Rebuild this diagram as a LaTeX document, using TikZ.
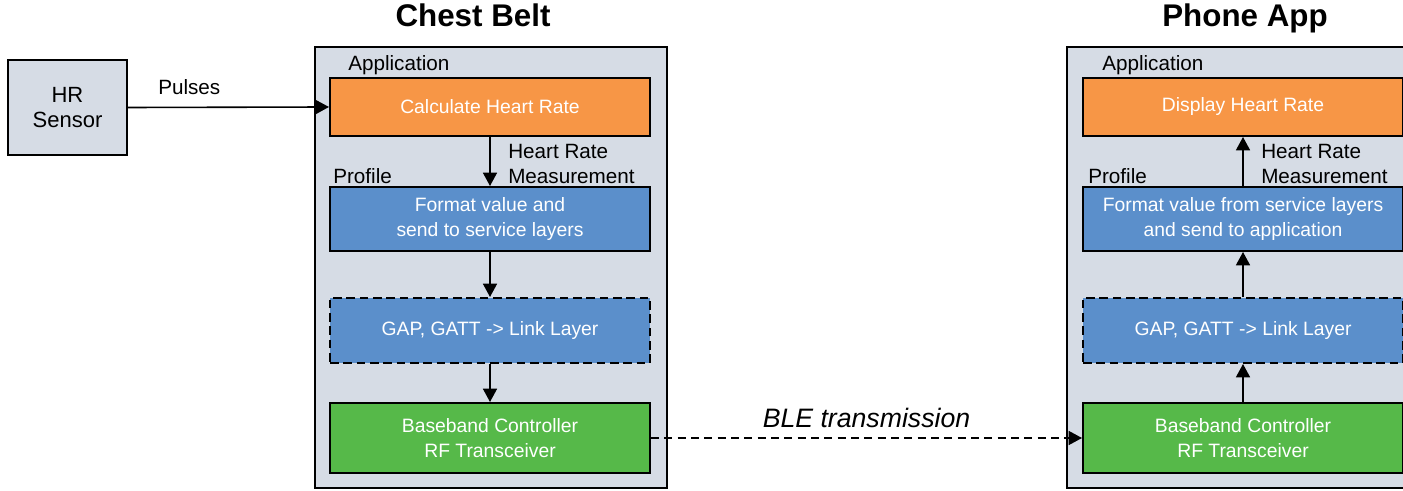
\documentclass[tikz,border=0pt]{standalone}
\usepackage{fontspec}
\setmainfont{Liberation Sans}
\usetikzlibrary{arrows.meta}
\definecolor{panelbg}{HTML}{D6DCE5}
\definecolor{apporange}{HTML}{F79646}
\definecolor{profblue}{HTML}{5B8FCB}
\definecolor{bbgreen}{HTML}{56B949}

\begin{document}
\begin{tikzpicture}[x=0.75pt,y=-0.75pt,
  panel/.style={draw,line width=1.9pt,fill=panelbg},
  layer/.style={draw,line width=1.5pt,minimum width=240pt,inner sep=0pt,text=white,align=center,
    font=\fontsize{14.5}{18.5}\selectfont},
  lbl/.style={anchor=west,inner sep=0pt,align=left,font=\fontsize{15.5}{18.75}\selectfont},
  title/.style={anchor=base,font=\bfseries\fontsize{23.5}{28}\selectfont},
  flow/.style={line width=1.2pt,-{Triangle[length=10pt,width=10.5pt]}}]
        \useasboundingbox (0,0) rectangle (1403,491);
        \clip (0,0) rectangle (1403,491);

        \node[title] (beltTitle) at (473,27) {Chest Belt};
        \node[title] (appTitle) at (1245,27) {Phone App};

        \draw[panel] (315,47) rectangle (667,488);
        \draw[panel] (1067,47) rectangle (1419,488);

        \node[panel,minimum width=89pt,minimum height=71pt,align=center,font=\fontsize{16.5}{18.75}\selectfont] (sensor) at (67.5,107.5) {HR\\Sensor};

        % chest belt stack
        \node[lbl] (beltApp) at (348,65) {Application};
        \node[layer,fill=apporange,minimum height=43.5pt] (calc) at (490,107) {Calculate Heart Rate};
        \node[lbl] (beltProf) at (333,176) {Profile};
        \node[lbl] (beltHrm) at (508,163.5) {Heart Rate\\Measurement};
        \node[layer,fill=profblue,minimum height=48pt] (fmtL) at (490,219) {Format value and\\send to service layers};
        \node[layer,fill=profblue,minimum height=48.75pt,dash pattern=on 6.5pt off 3.5pt] (gapL) at (490,330.5) {GAP, GATT -> Link Layer};
        \node[layer,fill=bbgreen,minimum height=52.5pt] (bbL) at (490,438) {Baseband Controller\\RF Transceiver};

        % phone app stack
        \node[lbl] (phoneApp) at (1102,65) {Application};
        \node[layer,fill=apporange,minimum height=43.5pt] (disp) at (1243,107) {Display Heart Rate};
        \node[lbl] (phoneProf) at (1088,176) {Profile};
        \node[lbl] (phoneHrm) at (1261,163.5) {Heart Rate\\Measurement};
        \node[layer,fill=profblue,minimum height=48pt] (fmtR) at (1243,219) {Format value from service layers\\and send to application};
        \node[layer,fill=profblue,minimum height=48.75pt,dash pattern=on 6.5pt off 3.5pt] (gapR) at (1243,330.5) {GAP, GATT -> Link Layer};
        \node[layer,fill=bbgreen,minimum height=52.5pt] (bbR) at (1243,438) {Baseband Controller\\RF Transceiver};

        \node[lbl] (pulses) at (158,87) {Pulses};
        \draw[flow] (sensor.east) -- (calc.west);
        \draw[flow] (calc) -- (fmtL);
        \draw[flow] (fmtL) -- (gapL);
        \draw[flow] (gapL) -- (bbL);
        \draw[flow] (bbR) -- (gapR);
        \draw[flow] (gapR) -- (fmtR);
        \draw[flow] (fmtR) -- (disp);
        \draw[flow,dash pattern=on 6pt off 4pt] (bbL.east) -- node[midway,anchor=south,inner sep=0pt,yshift=6.75pt,font=\itshape\fontsize{20}{24}\selectfont] (ble) {BLE transmission} (bbR.west);
        \end{tikzpicture}
\end{document}
